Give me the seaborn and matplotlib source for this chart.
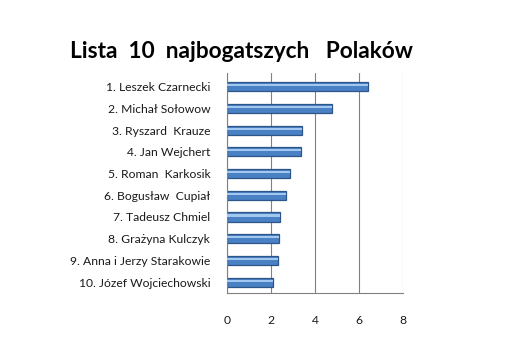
import matplotlib
matplotlib.use("Agg")
import matplotlib.pyplot as plt
import seaborn as sns
import numpy as np
import pandas as pd

names = ["1. Leszek Czarnecki", "2. Michał Sołowow", "3. Ryszard  Krauze",
         "4. Jan Wejchert", "5. Roman  Karkosik", "6. Bogusław  Cupiał",
         "7. Tadeusz Chmiel", "8. Grażyna Kulczyk", "9. Anna i Jerzy Starakowie",
         "10. Józef Wojciechowski"]
values = [6.4, 4.75, 3.4, 3.35, 2.85, 2.7, 2.4, 2.35, 2.3, 2.1]
xticks = [0, 2, 4, 6, 8]
title = "Lista  10  najbogatszych   Polaków"

sns.set_theme(style="white")
plt.rcParams['font.family'] = ['Lato', 'DejaVu Sans']

df = pd.DataFrame({"name": names, "value": values})

fig = plt.figure(figsize=(5.15, 3.48), dpi=100)
ax = fig.add_axes([227/515, 1-293/348, (403-227)/515, (293-73)/348])

sns.barplot(data=df, y="name", x="value", orient="h", color="#4a80c4",
            width=0.42, edgecolor="#2d5688", linewidth=0.9, saturation=1, ax=ax)
# highlight stripe for 3D look
ax.barh(np.arange(len(values)) - 0.07, values, height=0.1, color="#a3c8f0",
        linewidth=0, zorder=3)

ax.set_xlim(0, 8)
ax.set_ylim(9.5, -0.63)
ax.set_xticks(xticks)
ax.set_xticklabels([str(t) for t in xticks])
ax.set_xlabel("")
ax.set_ylabel("")
ax.grid(axis="x", color="#808080", linewidth=0.8)
ax.set_axisbelow(True)
for s in ["top", "right"]:
    ax.spines[s].set_visible(False)
ax.spines["left"].set_color("#808080")
ax.spines["bottom"].set_color("#808080")
ax.spines["left"].set_linewidth(0.8)
ax.spines["bottom"].set_linewidth(0.8)
ax.tick_params(axis="y", length=0, pad=12, labelsize=8.7, labelcolor="#1a1a1a")
ax.tick_params(axis="x", length=0, pad=16, labelsize=8.7, labelcolor="#1a1a1a")

fig.text(241/515, 1-51/348, title, ha="center", va="center",
         fontsize=16.3, fontweight="bold", color="black")

fig.savefig("out.png", dpi=100)
